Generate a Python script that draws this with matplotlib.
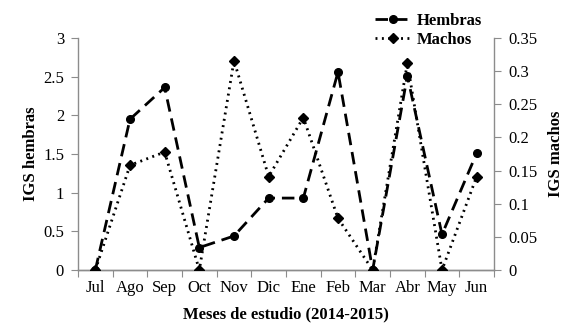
import matplotlib
matplotlib.use("Agg")
import matplotlib.pyplot as plt
from matplotlib.lines import Line2D

months = ["Jul", "Ago", "Sep", "Oct", "Nov", "Dic", "Ene", "Feb", "Mar", "Abr", "May", "Jun"]
hembras = [0, 1.95, 2.36, 0.29, 0.44, 0.93, 0.93, 2.56, 0, 2.51, 0.46, 1.51]
machos = [0, 0.158, 0.178, 0, 0.316, 0.141, 0.23, 0.078, 0, 0.312, 0, 0.141]
left_ticks = [0, 0.5, 1, 1.5, 2, 2.5, 3]
left_labels = ["0", "0.5", "1", "1.5", "2", "2.5", "3"]
right_ticks = [0, 0.05, 0.1, 0.15, 0.2, 0.25, 0.3, 0.35]
right_labels = ["0", "0.05", "0.1", "0.15", "0.2", "0.25", "0.3", "0.35"]

plt.rcParams['font.family'] = ['Liberation Serif', 'DejaVu Serif']
fs = 12
gray = "#8c8c8c"

fig = plt.figure(figsize=(5.79, 3.35), dpi=100)
ax = fig.add_axes([78/579, 1-270/335, (494-78)/579, (270-38)/335])
ax2 = ax.twinx()

x = list(range(len(months)))
ax.plot(x, hembras, color="black", lw=2.0, ls=(0, (4.5, 2.5)), marker="o", ms=5.5, zorder=3)
ax2.plot(x, machos, color="black", lw=2.0, ls=(0, (0.7, 1.6)), marker="D", ms=5, zorder=3)

ax.set_xlim(-0.5, len(months) - 0.5)
ax.set_ylim(0, 3)
ax2.set_ylim(0, 0.35)

ax.set_xticks([i - 0.5 for i in range(len(months) + 1)])
ax.set_xticklabels([])
ax.set_xticks(x, minor=True)
ax.set_xticklabels(months, minor=True, fontsize=fs)
ax.tick_params(axis='x', which='major', length=5, direction='out', color=gray)
ax.tick_params(axis='x', which='minor', length=0, pad=7)

ax.set_yticks(left_ticks)
ax.set_yticklabels(left_labels, fontsize=fs)
ax.tick_params(axis='y', length=5, direction='out', color=gray, pad=5)
ax2.set_yticks(right_ticks)
ax2.set_yticklabels(right_labels, fontsize=fs)
ax2.tick_params(axis='y', length=5, direction='out', color=gray, pad=5)

for a in (ax, ax2):
    a.spines['top'].set_visible(False)
    for s in ('left', 'right', 'bottom'):
        a.spines[s].set_color(gray)
        a.spines[s].set_linewidth(1.0)
ax.spines['right'].set_visible(False)
ax2.spines['left'].set_visible(False)

ax.set_xlabel("Meses de estudio (2014-2015)", fontsize=fs, fontweight="bold", labelpad=8)
ax.set_ylabel("IGS hembras", fontsize=fs, fontweight="bold", labelpad=3)
ax2.set_ylabel("IGS machos", fontsize=fs, fontweight="bold", labelpad=8)

handles = [
    Line2D([], [], color="black", lw=2.0, ls=(0, (4.5, 2.5)), marker="o", ms=5.5),
    Line2D([], [], color="black", lw=2.0, ls=(0, (0.7, 1.6)), marker="D", ms=5),
]
fig.legend(handles, ["Hembras", "Machos"], loc="upper left",
           bbox_to_anchor=(368/579, 1 - 6/335), frameon=False,
           prop={'weight': 'bold', 'size': fs}, handlelength=2.2,
           handletextpad=0.3, labelspacing=0.2, borderaxespad=0)

fig.savefig("out.png", dpi=100)
